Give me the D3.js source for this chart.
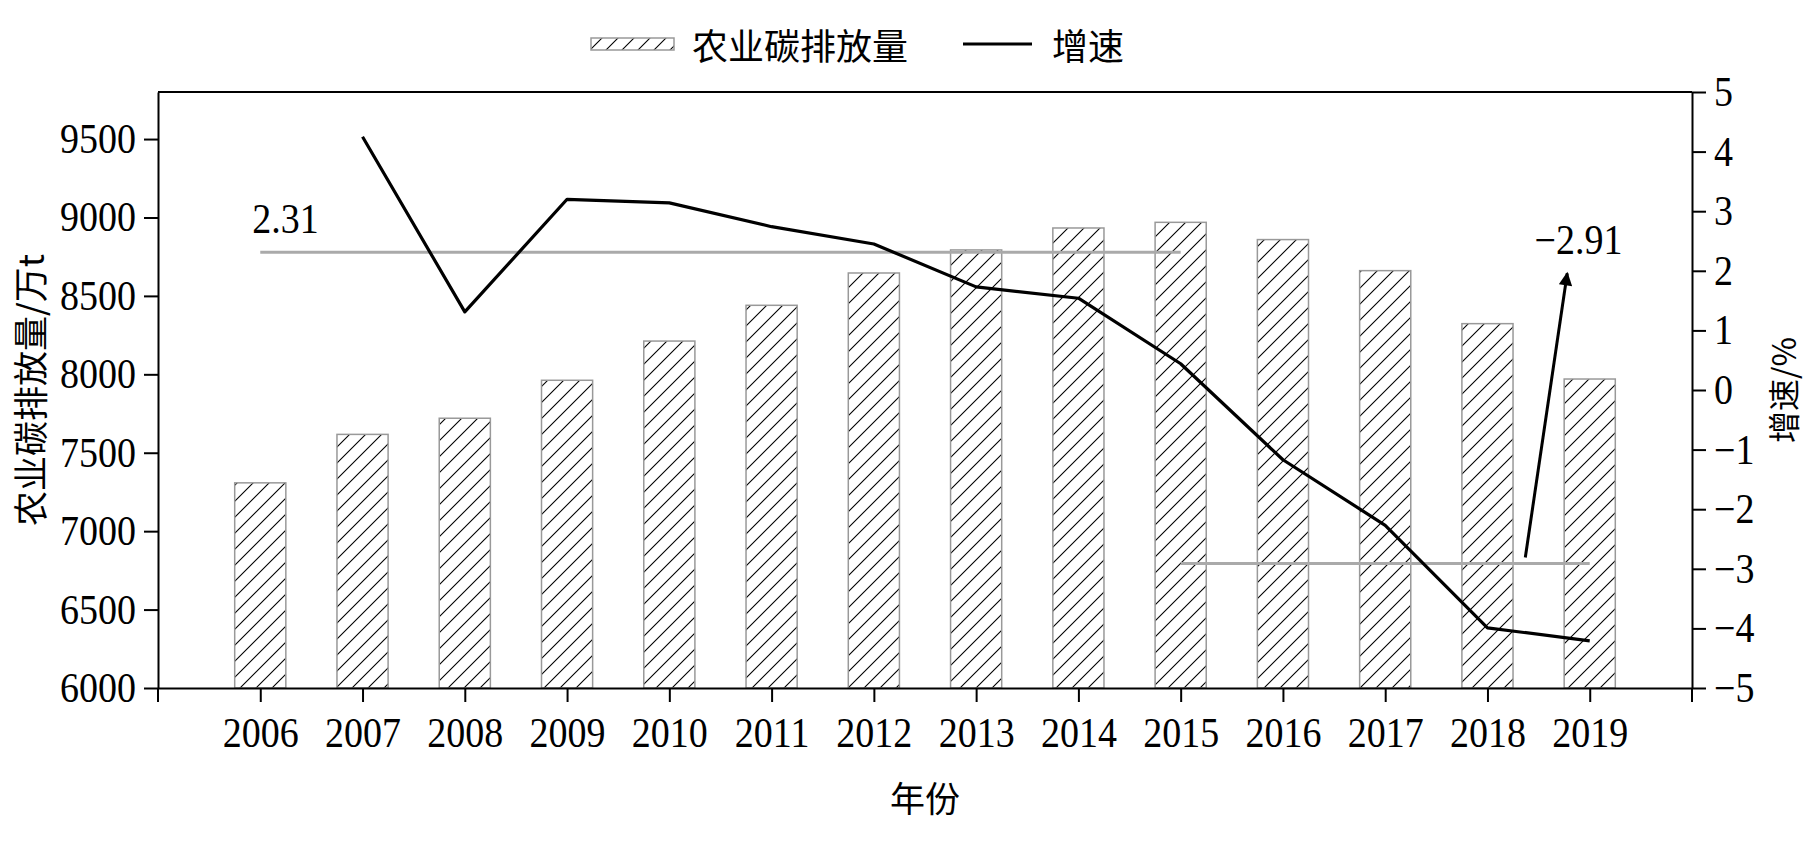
<!DOCTYPE html>
<html><head><meta charset="utf-8">
<script src="https://cdn.jsdelivr.net/npm/d3@7"></script>
<style>
html,body{margin:0;padding:0;background:#fff;}
svg{display:block;}
.num{font-family:"Liberation Serif","Times New Roman",serif;transform-box:fill-box;transform-origin:center;transform:scaleY(1.1);}
.cjk{font-family:"Noto Sans CJK SC","Noto Sans",sans-serif;}
</style></head>
<body>
<script>
const years = ["2006","2007","2008","2009","2010","2011","2012","2013","2014","2015","2016","2017","2018","2019"];
const emissions = [7308,7617,7720,7962,8212,8440,8646,8793,8933,8969,8859,8661,8323,7970];
const growthYears = ["2007","2008","2009","2010","2011","2012","2013","2014","2015","2016","2017","2018","2019"];
const growth = [4.25,1.31,3.20,3.14,2.74,2.45,1.73,1.54,0.44,-1.17,-2.27,-3.99,-4.21];
const leftTicks = [6000,6500,7000,7500,8000,8500,9000,9500];
const rightTicks = [-5,-4,-3,-2,-1,0,1,2,3,4,5];
const avgFirst = {value:2.31, from:"2006", to:"2015", label:"2.31"};
const avgSecond = {value:-2.91, from:"2015", to:"2019", label:"\u22122.91"};

const W=1808,H=844;
const m={left:158,right:1692,top:92,bottom:688};
const svg=d3.select("body").append("svg").attr("width",W).attr("height",H);
const defs=svg.append("defs");
const pat=defs.append("pattern").attr("id","hatch").attr("patternUnits","userSpaceOnUse")
  .attr("width",16).attr("height",16);
pat.append("path").attr("d","M-4,4 L4,-4 M0,16 L16,0 M12,20 L20,12")
  .attr("stroke","#000").attr("stroke-width",1.1).attr("fill","none");

const x=d3.scalePoint().domain(years).range([m.left,m.right]).padding(1);
const step=x.step();
const yL=d3.scaleLinear().domain([6000,9800]).range([m.bottom,m.top]);
const yR=d3.scaleLinear().domain([-5,5]).range([m.bottom,m.top]);
const bw=step*0.5;

// bars
svg.append("g").selectAll("rect").data(years).join("rect")
  .attr("x",d=>x(d)-bw/2).attr("width",bw)
  .attr("y",(d,i)=>yL(emissions[i])).attr("height",(d,i)=>yL(6000)-yL(emissions[i]))
  .attr("fill","url(#hatch)").attr("stroke","#999").attr("stroke-width",1.5);

// average lines
[avgFirst,avgSecond].forEach(a=>{
  svg.append("line").attr("x1",x(a.from)).attr("x2",x(a.to))
    .attr("y1",yR(a.value)).attr("y2",yR(a.value))
    .attr("stroke","#aaa").attr("stroke-width",3);
});

// growth line
const line=d3.line().x((d,i)=>x(growthYears[i])).y(d=>yR(d));
svg.append("path").datum(growth).attr("d",line).attr("fill","none")
  .attr("stroke","#000").attr("stroke-width",3.2).attr("stroke-linejoin","round");

// frame top
svg.append("line").attr("x1",m.left).attr("x2",m.right).attr("y1",m.top).attr("y2",m.top)
  .attr("stroke","#000").attr("stroke-width",2);

// axes
const tickLen=14;
const gL=svg.append("g").attr("transform",`translate(${m.left},0)`)
  .call(d3.axisLeft(yL).tickValues(leftTicks).tickSize(tickLen).tickPadding(8).tickSizeOuter(0)
    .tickFormat(d3.format("d")));
const gR=svg.append("g").attr("transform",`translate(${m.right},0)`)
  .call(d3.axisRight(yR).tickValues(rightTicks).tickSize(tickLen).tickPadding(8).tickSizeOuter(0)
    .tickFormat(d=>d<0?"\u2212"+Math.abs(d):String(d)));
const gB=svg.append("g").attr("transform",`translate(0,${m.bottom})`)
  .call(d3.axisBottom(x).tickSize(tickLen).tickPadding(17).tickSizeOuter(0));
[gL,gR,gB].forEach(g=>{
  g.select(".domain").attr("stroke","#000").attr("stroke-width",2);
  g.selectAll(".tick line").attr("stroke","#000").attr("stroke-width",2);
  g.selectAll("text").attr("class","num").attr("font-size",38).attr("fill","#000")
    .attr("font-family",null);
});
// axis extensions below baseline
[m.left,m.right].forEach(px=>{
  svg.append("line").attr("x1",px).attr("x2",px).attr("y1",m.bottom).attr("y2",m.bottom+tickLen)
    .attr("stroke","#000").attr("stroke-width",2);
});
gB.selectAll("text").attr("dy","0.71em");

// axis titles
svg.append("text").attr("class","cjk").attr("font-size",35)
  .attr("x",(m.left+m.right)/2).attr("y",796).attr("text-anchor","middle").attr("dominant-baseline","central")
  .text("年份");
svg.append("text").attr("class","cjk").attr("font-size",35)
  .attr("transform",`translate(28,${(m.top+m.bottom)/2}) rotate(-90)`)
  .attr("text-anchor","middle").attr("dominant-baseline","central").text("农业碳排放量/万t");
svg.append("text").attr("class","cjk").attr("font-size",32)
  .attr("transform",`translate(1782,${(m.top+m.bottom)/2}) rotate(-90)`)
  .attr("text-anchor","middle").attr("dominant-baseline","central").text("增速/%");

// annotations
svg.append("text").attr("class","num").attr("font-size",38)
  .attr("x",x(avgFirst.from)-8).attr("y",yR(2.87)).attr("dominant-baseline","central")
  .text(avgFirst.label);
const ax=(f)=>x("2018")+f*step;
svg.append("text").attr("class","num").attr("font-size",38)
  .attr("x",ax(0.89)).attr("y",yR(2.52)).attr("text-anchor","middle").attr("dominant-baseline","central")
  .text(avgSecond.label);
defs.append("marker").attr("id","arr").attr("viewBox","0 0 10 10").attr("refX",9).attr("refY",5)
  .attr("markerWidth",6).attr("markerHeight",4.5).attr("orient","auto").attr("markerUnits","strokeWidth")
  .append("path").attr("d","M0,0 L10,5 L0,10 Z").attr("fill","#000");
svg.append("line").attr("x1",ax(0.37)).attr("y1",yR(-2.81)).attr("x2",ax(0.78)).attr("y2",yR(1.96))
  .attr("stroke","#000").attr("stroke-width",3).attr("marker-end","url(#arr)");

// legend
const lg=svg.append("g");
lg.append("rect").attr("x",591).attr("y",38).attr("width",83).attr("height",12)
  .attr("fill","url(#hatch)").attr("stroke","#999").attr("stroke-width",1.5);
lg.append("text").attr("class","cjk").attr("font-size",36).attr("x",692).attr("y",44)
  .attr("dominant-baseline","central").text("农业碳排放量");
lg.append("line").attr("x1",963).attr("x2",1032).attr("y1",44).attr("y2",44)
  .attr("stroke","#000").attr("stroke-width",3);
lg.append("text").attr("class","cjk").attr("font-size",36).attr("x",1052).attr("y",44)
  .attr("dominant-baseline","central").text("增速");
</script>
</body></html>
